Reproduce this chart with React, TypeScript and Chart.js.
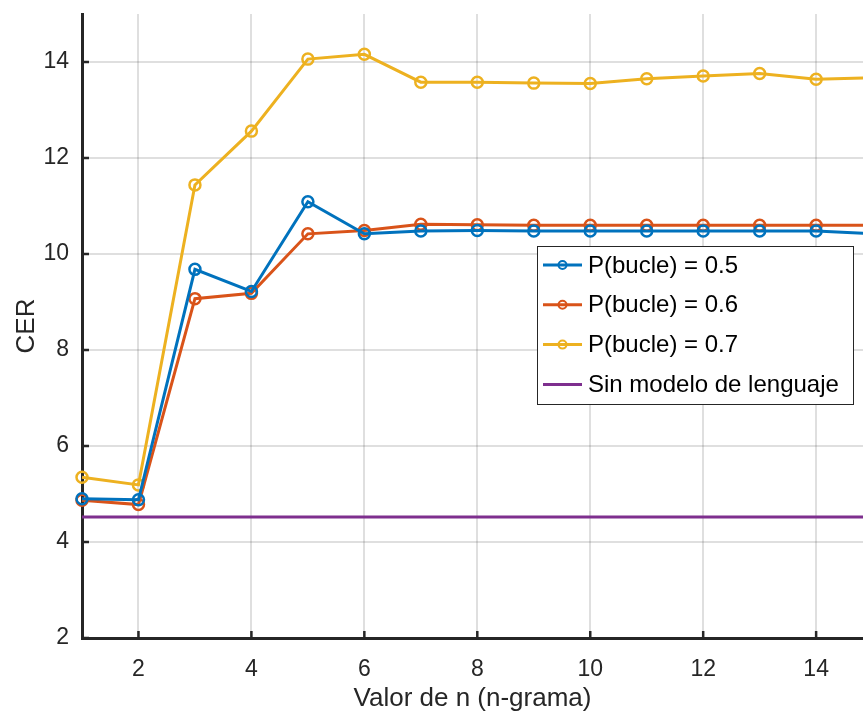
import React, { useEffect, useRef } from "react";
import { Chart, registerables } from "chart.js";

Chart.register(...registerables);

// ---- data ----
const nValues = [1, 2, 3, 4, 5, 6, 7, 8, 9, 10, 11, 12, 13, 14, 15];
const cerP05 = [4.9, 4.88, 9.68, 9.22, 11.09, 10.42, 10.48, 10.49, 10.48, 10.48, 10.48, 10.48, 10.48, 10.48, 10.42];
const cerP06 = [4.87, 4.78, 9.07, 9.18, 10.42, 10.49, 10.62, 10.61, 10.6, 10.6, 10.6, 10.6, 10.6, 10.6, 10.6];
const cerP07 = [5.35, 5.19, 11.44, 12.56, 14.06, 14.16, 13.58, 13.58, 13.56, 13.55, 13.65, 13.71, 13.76, 13.64, 13.67];
const cerNoLM = 4.52;
const seriesLabels = ["P(bucle) = 0.5", "P(bucle) = 0.6", "P(bucle) = 0.7", "Sin modelo de lenguaje"];
const xTicks = [2, 4, 6, 8, 10, 12, 14];
const yTicks = [2, 4, 6, 8, 10, 12, 14];
const xTitle = "Valor de n (n-grama)";
const yTitle = "CER";

const COLORS = ["#0072BD", "#D95319", "#EDB120", "#7E2F8E"];
const AXIS = "#262626";
const FONT = "'Liberation Sans', Arial, Helvetica, sans-serif";

const innerTicks = {
  id: "innerTicks",
  afterDatasetsDraw(chart: any) {
    const { ctx, chartArea, scales } = chart;
    ctx.save();
    ctx.strokeStyle = AXIS;
    ctx.lineWidth = 2.5;
    ctx.beginPath();
    for (const v of xTicks) {
      const px = scales.x.getPixelForValue(v);
      ctx.moveTo(px, chartArea.bottom);
      ctx.lineTo(px, chartArea.bottom - 7);
    }
    for (const v of yTicks) {
      const py = scales.y.getPixelForValue(v);
      ctx.moveTo(chartArea.left, py);
      ctx.lineTo(chartArea.left + 7, py);
    }
    ctx.stroke();
    ctx.restore();
  },
};

const boxLegend = {
  id: "boxLegend",
  afterDraw(chart: any) {
    const { ctx } = chart;
    const bx = 537, by = 246, bw = 316, bh = 158;
    ctx.save();
    ctx.fillStyle = "#ffffff";
    ctx.fillRect(bx, by, bw, bh);
    ctx.strokeStyle = "#262626";
    ctx.lineWidth = 1;
    ctx.strokeRect(bx + 0.5, by + 0.5, bw, bh);
    const ds = chart.data.datasets;
    ds.forEach((d: any, i: number) => {
      const cy = by + 19 + i * 39.8;
      ctx.strokeStyle = d.borderColor;
      ctx.lineWidth = 3;
      ctx.beginPath();
      ctx.moveTo(543, cy);
      ctx.lineTo(582, cy);
      ctx.stroke();
      if (d.pointRadius > 0) {
        ctx.lineWidth = 2;
        ctx.beginPath();
        ctx.arc(562.5, cy, 4, 0, Math.PI * 2);
        ctx.stroke();
      }
      ctx.fillStyle = "#000000";
      ctx.font = `24px ${FONT}`;
      ctx.textAlign = "left";
      ctx.textBaseline = "middle";
      ctx.fillText(d.label, 588, cy + 1);
    });
    ctx.restore();
  },
};

const noPad = (s: any) => {
  s.paddingTop = 0;
  s.paddingBottom = 0;
  s.paddingLeft = 0;
  s.paddingRight = 0;
};

export default function App() {
  const ref = useRef<HTMLCanvasElement | null>(null);

  useEffect(() => {
    if (!ref.current) return;
    const mk = (label: string, data: number[], color: string, withPts: boolean) => ({
      label,
      data: nValues.map((n, i) => ({ x: n, y: data[i] })),
      borderColor: color,
      backgroundColor: color,
      borderWidth: 3,
      pointRadius: withPts ? 5.5 : 0,
      pointBorderWidth: 2.5,
      pointBackgroundColor: "rgba(0,0,0,0)",
      pointBorderColor: color,
      tension: 0,
      clip: false,
    });
    const chart = new Chart(ref.current, {
      type: "line",
      data: {
        datasets: [
          mk(seriesLabels[0], cerP05, COLORS[0], true),
          mk(seriesLabels[1], cerP06, COLORS[1], true),
          mk(seriesLabels[2], cerP07, COLORS[2], true),
          mk(seriesLabels[3], nValues.map(() => cerNoLM), COLORS[3], false),
        ],
      },
      options: {
        animation: false,
        responsive: false,
        maintainAspectRatio: false,
        layout: { autoPadding: false, padding: { top: 14, right: 0, left: 0, bottom: 0 } },
        plugins: { legend: { display: false }, tooltip: { enabled: false } },
        scales: {
          x: {
            type: "linear",
            min: 1,
            max: 14.83,
            afterBuildTicks: (s: any) => { s.ticks = xTicks.map((v) => ({ value: v })); },
            afterFit: (s: any) => { s.height = 73; noPad(s); },
            grid: { color: "rgba(38,38,38,0.15)", lineWidth: 2, drawTicks: false },
            border: { display: true, color: AXIS, width: 3 },
            ticks: {
              color: AXIS,
              padding: 18,
              maxRotation: 0,
              font: { family: FONT, size: 23 },
            },
            title: {
              display: true,
              text: xTitle,
              color: AXIS,
              padding: 0,
              font: { family: FONT, size: 26, lineHeight: 0.9 },
            },
          },
          y: {
            type: "linear",
            min: 2,
            max: 15,
            afterBuildTicks: (s: any) => { s.ticks = yTicks.map((v) => ({ value: v })); },
            afterFit: (s: any) => { s.width = 82; noPad(s); },
            grid: { color: "rgba(38,38,38,0.15)", lineWidth: 2, drawTicks: false },
            border: { display: true, color: AXIS, width: 3 },
            ticks: {
              color: AXIS,
              padding: 13,
              font: { family: FONT, size: 23 },
            },
            title: {
              display: true,
              text: yTitle,
              color: AXIS,
              padding: { top: 11, bottom: 0 },
              font: { family: FONT, size: 26 },
            },
          },
        },
      },
      plugins: [innerTicks, boxLegend],
    } as any);
    return () => chart.destroy();
  }, []);

  return (
    <div style={{ position: "fixed", left: 0, top: 0, width: 863, height: 711, background: "#fff" }}>
      <canvas ref={ref} width={863} height={711} style={{ display: "block" }} />
    </div>
  );
}
